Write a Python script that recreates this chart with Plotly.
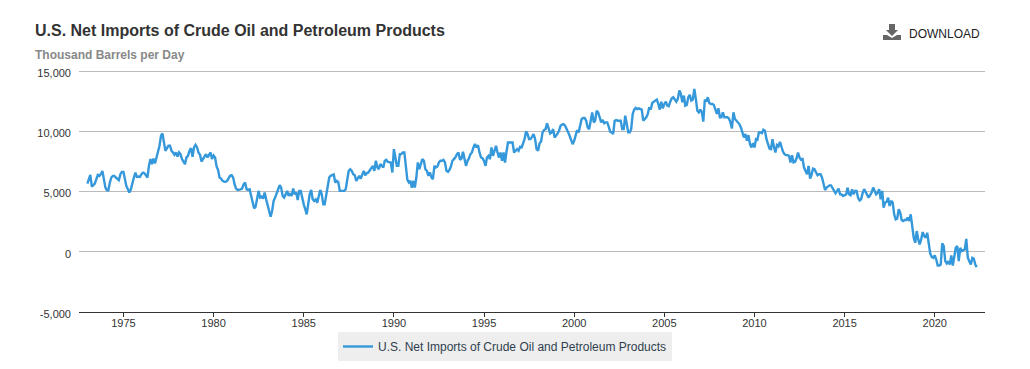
import pandas as pd
import plotly.graph_objects as go

TITLE = "U.S. Net Imports of Crude Oil and Petroleum Products"
SUBTITLE = "Thousand Barrels per Day"
SERIES = "U.S. Net Imports of Crude Oil and Petroleum Products"
Y_TICKS = [-5000, 0, 5000, 10000, 15000]
Y_LABELS = ["-5,000", "0", "5,000", "10,000", "15,000"]

v1970s = [
    5670,6170,6390,5420,5560,5670,6030,6390,6310,6450,6720,6030,
    5330,5110,5110,5750,6170,6310,6310,6170,6030,5950,6450,6640,
    6640,5890,5470,5190,4920,5190,5750,6170,6580,6220,6250,6220,
    6450,6580,6530,6390,6170,7140,7700,7280,7750,7340,7840,8250,
    8810,9640,9840,9090,8390,8610,8810,8810,8390,8250,8060,8250,
    7920,8250,8110,7700,7420,7280,7840,7970,8390,8610,7890,8670,
    8890,8670,8250,8060,7500,7700,7890,8110,7840,8110,8250,7700,
]
v1980s = [
    8000,7840,7110,6810,6170,6080,5890,5830,5810,5890,6080,6310,
    6360,6170,5610,5250,5140,5140,5190,5250,5610,5750,5190,5140,
    5190,4640,4080,3610,3750,4360,5060,4500,4580,4420,4920,4360,
    3800,3390,2920,3390,4220,4500,4860,5330,5530,5330,4640,4500,
    4780,5060,4640,4860,4640,5250,4780,4920,4300,5060,5060,4360,
    3940,3530,3110,3940,4780,5140,4360,4220,4360,4080,4780,5140,
    4780,3940,3940,4640,5470,6170,6310,6360,6420,5750,5890,5810,
    5060,5060,5060,5060,5190,5890,6720,6860,6720,6450,6360,5890,
    6170,6310,6080,6450,6720,6360,6530,6590,6810,6920,7140,6720,
    7560,7000,6860,7280,7140,7000,7560,7640,7470,7420,7420,6590,
]
v1990s = [
    8530,7840,7140,7140,8110,8110,8250,8250,6860,5970,5750,5890,
    5330,5890,5330,6170,7420,6860,7280,7700,7560,6860,6720,6310,
    6590,6170,6030,7140,7000,7080,7420,7560,7560,7640,7420,6720,
    6640,6810,7080,7560,7700,7840,8110,8250,7640,7750,8310,7640,
    7140,7560,7750,8110,8250,8670,8950,8670,8860,8250,7840,7780,
    7550,7140,7830,7970,7690,8670,7970,8390,8800,8250,7830,8250,
    7550,8250,7410,8330,9080,9080,9080,9080,8250,8390,8530,8390,
    8720,8670,8940,9360,10000,9780,9360,9360,9560,9780,9360,8530,
    8390,9030,9140,9920,10110,10190,10670,10190,9830,9920,10190,9500,
    9640,9830,10060,10470,10560,10610,10470,10110,9920,9640,9220,8940,
]
v2000s = [
    9220,9830,10110,9920,10470,11030,11110,11110,10890,10330,10190,10750,
    11580,10750,10890,11720,11580,11170,10750,10950,10670,10750,10750,10390,
    9970,9920,9780,10890,10950,10890,10890,10890,10190,10190,11300,10750,
    9920,9920,10190,11450,11810,11950,11860,11920,11860,11810,10890,11030,
    11170,11450,12000,11810,12360,12470,12560,12640,12280,11810,12470,11920,
    12280,12470,12140,12090,12470,12750,12840,12640,12470,12700,13390,13110,
    12420,12970,12140,12200,12840,13030,12560,12640,13530,12700,11720,11580,
    11810,11580,10810,12640,12470,12840,12360,12280,12280,12200,11720,11450,
    11920,11170,11170,11580,11170,11170,11170,11080,10750,10250,11580,11030,
    10890,10700,10610,10330,9920,9500,9780,9220,9690,8940,8670,9030,
]
v2010s = [
    8670,9360,9310,9920,9920,9860,10140,10060,9360,8860,8580,8530,
    9360,8670,8250,8860,8750,9140,8670,8330,8110,8030,8030,7970,
    7420,8030,7420,7470,7750,8250,7830,7640,7700,7000,6720,6440,
    7140,6080,6360,6910,6860,6640,6360,6440,6440,6160,5610,5130,
    5330,5410,5520,5520,5330,5050,4860,5050,5250,4770,4770,4630,
    4690,4770,5330,4770,4690,5190,4770,5050,5050,4490,4270,4360,
    4870,5200,4980,4780,4500,4700,4920,5340,4980,4780,4920,5200,
    4360,5060,3670,4090,4140,4500,3810,4230,4090,3110,2700,2750,
    3530,3250,2640,2560,2640,2640,2840,2560,3110,2000,1170,750,
    1720,1030,610,1030,1640,1310,1170,1580,610,-140,-420,-500,
]
v2020s = [
    -310,-640,-1140,-1140,-1060,700,470,-780,-970,-780,-1060,-310,
    -1140,-310,330,470,-780,330,60,140,190,1080,-500,-780,
    -1060,-500,-560,-1060,-1280,
]

values = v1970s + v1980s + v1990s + v2000s + v2010s + v2020s
dates = pd.date_range("1973-01-01", periods=len(values), freq="MS")

fig = go.Figure()
fig.add_trace(go.Scatter(
    x=dates, y=values, mode="lines", name=SERIES,
    line=dict(color="#3498db", width=2.4), showlegend=True,
))


def px(x):
    return (x - 79) / 906


def py(y):
    return (312 - y) / 242


icon = (
    f"M {px(889)} {py(24)} L {px(895)} {py(24)} L {px(895)} {py(30)} L {px(898)} {py(30)} "
    f"L {px(892)} {py(36)} L {px(886)} {py(30)} L {px(889)} {py(30)} Z"
)
base = f"M {px(883)} {py(35)} L {px(887)} {py(35)} L {px(892)} {py(38)} L {px(897)} {py(35)} L {px(901)} {py(35)} L {px(901)} {py(40)} L {px(883)} {py(40)} Z"

fig.update_layout(
    width=1030, height=369, autosize=False,
    margin=dict(l=79, r=45, t=70, b=57, autoexpand=False),
    paper_bgcolor="white", plot_bgcolor="white",
    font=dict(family="Liberation Sans", size=11, color="#333333"),
    title=dict(text=f"<b>{TITLE}</b>", x=35/1030, xanchor="left", y=1-30/369, yanchor="middle",
               font=dict(size=16, color="#333333", family="Liberation Sans")),
    xaxis=dict(
        type="date", range=["1972-07-15", "2022-10-15"],
        tick0="1975-01-01", dtick="M60", tickformat="%Y",
        ticks="outside", ticklen=4, tickwidth=1, tickcolor="#333333",
        showgrid=False, zeroline=False, showline=True, linecolor="#333333", linewidth=1,
        tickfont=dict(size=11, color="#333333"), ticklabelstandoff=-3,
    ),
    yaxis=dict(
        range=[-5000, 15100], tickvals=Y_TICKS, ticktext=Y_LABELS,
        showgrid=True, gridcolor="#bbbbbb", gridwidth=1, zeroline=False, showline=False,
        ticks="", ticklabelstandoff=7, ticklabelshift=2, tickfont=dict(size=11, color="#333333"),
    ),
    showlegend=True,
    legend=dict(
        orientation="h", xref="container", yref="container",
        x=505/1030, xanchor="center", y=1-332/369, yanchor="top",
        bgcolor="#eeeeee", font=dict(size=12, color="#2f3e4e", family="Liberation Sans"),
    ),
    annotations=[
        dict(text=f"<b>{SUBTITLE}</b>", xref="paper", yref="paper", x=px(33), y=py(55),
             xanchor="left", yanchor="middle", showarrow=False,
             font=dict(size=12, color="#888888", family="Liberation Sans")),
        dict(text="DOWNLOAD", xref="paper", yref="paper", x=px(907), y=py(34),
             xanchor="left", yanchor="middle", showarrow=False,
             font=dict(size=12, color="#222222", family="Liberation Sans")),
    ],
    shapes=[
        dict(type="path", path=icon, xref="paper", yref="paper", fillcolor="#666666", line_width=0),
        dict(type="path", path=base, xref="paper", yref="paper", fillcolor="#666666", line_width=0),
    ],
)

fig.write_html("out.html", config={"displayModeBar": False},
               post_script="document.body.style.margin='0';")
